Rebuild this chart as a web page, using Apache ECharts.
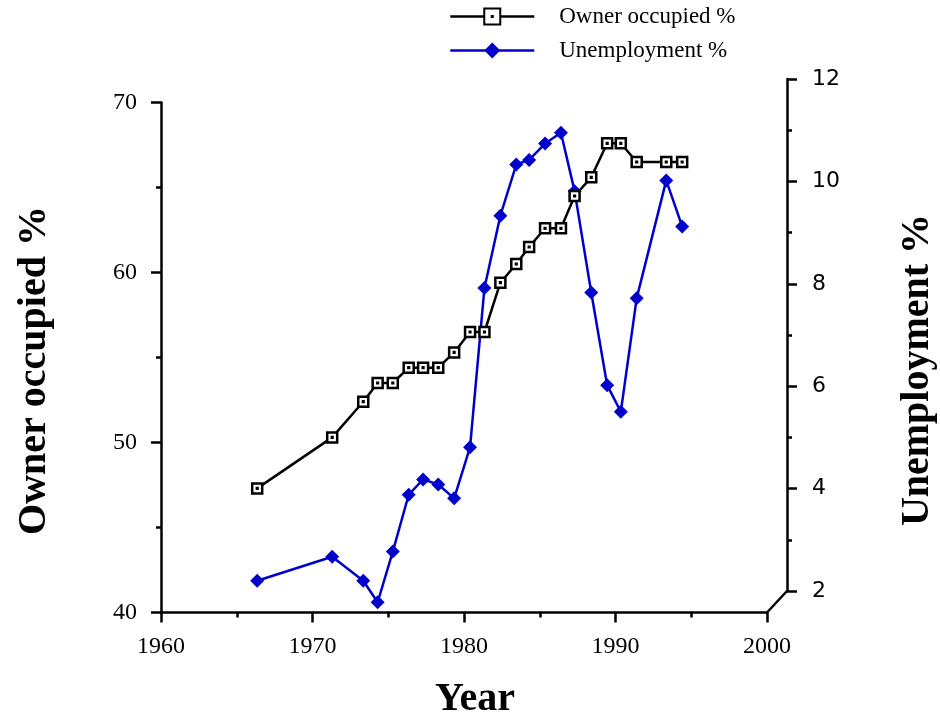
<!DOCTYPE html>
<html>
<head>
<meta charset="utf-8">
<script src="https://cdn.jsdelivr.net/npm/echarts@6/dist/echarts.min.js"></script>
<style>
html,body{margin:0;padding:0;background:#fff;}
#chart{width:940px;height:719px;}
</style>
</head>
<body>
<div id="chart"></div>
<script>
const years = [1966.35, 1971.3, 1973.35, 1974.3, 1975.3, 1976.35, 1977.3, 1978.3, 1979.35, 1980.4, 1981.35, 1982.4, 1983.45, 1984.3, 1985.35, 1986.4, 1987.3, 1988.4, 1989.45, 1990.35, 1991.4, 1993.35, 1994.4];
const ownerOccupied = [47.3, 50.3, 52.4, 53.5, 53.5, 54.4, 54.4, 54.4, 55.3, 56.5, 56.5, 59.4, 60.5, 61.5, 62.6, 62.6, 64.5, 65.6, 67.6, 67.6, 66.5, 66.5, 66.5];
const unemployment = [2.2, 2.67, 2.2, 1.78, 2.77, 3.88, 4.18, 4.08, 3.81, 4.81, 7.92, 9.33, 10.33, 10.42, 10.74, 10.95, 9.81, 7.83, 6.02, 5.5, 7.72, 10.02, 9.12];
const seriesNames = ['Owner occupied %', 'Unemployment %'];
const axisTitles = { x: 'Year', left: 'Owner occupied %', right: 'Unemployment %' };

const chart = echarts.init(document.getElementById('chart'));
const serif = 'Liberation Serif';
const blue = '#0000CD';
const squareDot = 'path://M0 0H12V12H0Z M5.6 5.6H6.4V6.4H5.6Z';

const pairs = (ys) => years.map((x, i) => [x, ys[i]]);

chart.setOption({
  animation: false,
  backgroundColor: '#fff',
  grid: [
    { left: 161, right: 173, top: 102.5, bottom: 106.5, containLabel: false, outerBoundsMode: 'none' },
    { left: 161, right: 173, top: 79, bottom: 128, containLabel: false, outerBoundsMode: 'none' }
  ],
  legend: {
    orient: 'vertical',
    left: 444,
    top: 0,
    itemWidth: 84,
    itemHeight: 20,
    itemGap: 11,
    lineStyle: { width: 2.5 },
    textStyle: { fontFamily: serif, fontSize: 23, color: '#000', padding: [0, 0, 0, 20] },
    data: seriesNames
  },
  xAxis: [
    {
      gridIndex: 0, type: 'value', min: 1960, max: 2000, interval: 10,
      name: axisTitles.x, nameLocation: 'middle', nameGap: 67,
      nameTextStyle: { fontFamily: serif, fontSize: 40, fontWeight: 'bold', color: '#000', padding: [0, 0, 0, 22] },
      axisLine: { show: true, onZero: false, lineStyle: { color: '#000', width: 2.5 } },
      axisTick: { show: true, inside: false, length: 10, lineStyle: { color: '#000', width: 2.5 } },
      minorTick: { show: true, splitNumber: 2, length: 5, lineStyle: { color: '#000', width: 2.5 } },
      axisLabel: { fontFamily: serif, fontSize: 24, color: '#000', margin: 22, formatter: v => String(v) },
      splitLine: { show: false }
    },
    {
      gridIndex: 1, type: 'value', min: 1960, max: 2000, interval: 10, show: false
    }
  ],
  yAxis: [
    {
      gridIndex: 0, type: 'value', min: 40, max: 70, interval: 10, position: 'left',
      name: axisTitles.left, nameLocation: 'middle', nameGap: 106, nameRotate: 90,
      nameTextStyle: { fontFamily: serif, fontSize: 40, fontWeight: 'bold', color: '#000', padding: [0, 26, 0, 0] },
      axisLine: { show: true, onZero: false, lineStyle: { color: '#000', width: 2.5 } },
      axisTick: { show: true, inside: false, length: 10, lineStyle: { color: '#000', width: 2.5 } },
      minorTick: { show: true, splitNumber: 2, length: 5, lineStyle: { color: '#000', width: 2.5 } },
      axisLabel: { fontFamily: serif, fontSize: 24, color: '#000', margin: 24 },
      splitLine: { show: false }
    },
    {
      gridIndex: 1, type: 'value', min: 2, max: 12, interval: 2, position: 'right', offset: 20,
      name: axisTitles.right, nameLocation: 'middle', nameGap: 111, nameRotate: 90,
      nameTextStyle: { fontFamily: serif, fontSize: 40, fontWeight: 'bold', color: '#000', padding: [0, 70, 0, 0] },
      axisLine: { show: true, onZero: false, lineStyle: { color: '#000', width: 2.5 } },
      axisTick: { show: true, inside: false, length: 10, lineStyle: { color: '#000', width: 2.5 } },
      minorTick: { show: true, splitNumber: 2, length: 5, lineStyle: { color: '#000', width: 2.5 } },
      axisLabel: { fontFamily: 'DejaVu Sans', fontSize: 22, color: '#000', margin: 25 },
      splitLine: { show: false }
    }
  ],
  series: [
    {
      name: seriesNames[0], type: 'line', xAxisIndex: 0, yAxisIndex: 0,
      data: pairs(ownerOccupied), clip: false, z: 3,
      symbol: squareDot, symbolSize: 10, showAllSymbol: true,
      lineStyle: { color: '#000', width: 2.5 },
      itemStyle: { color: '#fff', borderColor: '#000', borderWidth: 2.5 }
    },
    {
      name: seriesNames[1], type: 'line', xAxisIndex: 1, yAxisIndex: 1,
      data: pairs(unemployment), clip: false, z: 2,
      symbol: 'diamond', symbolSize: 14, showAllSymbol: true,
      lineStyle: { color: blue, width: 2.5 },
      itemStyle: { color: blue, borderColor: blue, borderWidth: 0 }
    }
  ]
});

// axis break connector between the x axis end and the offset right axis
const xEnd = chart.convertToPixel({ xAxisIndex: 0 }, 2000);
const yBottom = chart.convertToPixel({ yAxisIndex: 0 }, 40);
const yRight = chart.convertToPixel({ yAxisIndex: 1 }, 2);
chart.setOption({
  graphic: [{
    type: 'line',
    shape: { x1: xEnd, y1: yBottom, x2: xEnd + 20, y2: yRight },
    style: { stroke: '#000', lineWidth: 2.5 },
    z: 10
  }]
});
</script>
</body>
</html>
